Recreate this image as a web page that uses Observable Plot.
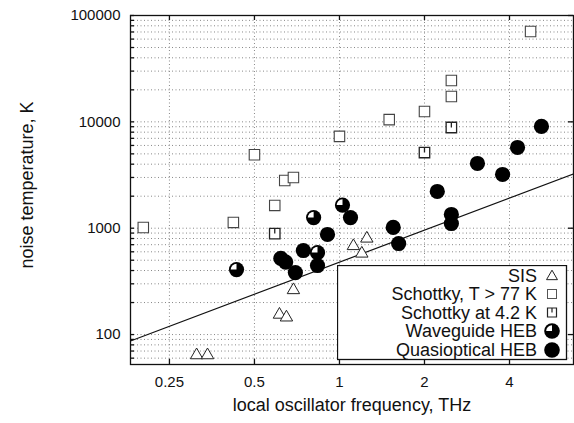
<!DOCTYPE html>
<html>
<head>
<meta charset="utf-8">
<script src="https://cdn.jsdelivr.net/npm/d3@7"></script>
<script src="https://cdn.jsdelivr.net/npm/@observablehq/plot@0.6"></script>
<style>
  html, body { margin: 0; padding: 0; background: #fff; }
  #wrap { position: relative; width: 574px; height: 423px; font-family: "Liberation Sans", Arial, sans-serif; }
  #legend { position: absolute; left: 337px; top: 265px; }
  #ylab { position: absolute; left: -73px; top: 174px; width: 200px; height: 22px; line-height: 22px;
          text-align: center; font-size: 18px; color: #111; transform: rotate(-90deg); transform-origin: 100px 11px; white-space: nowrap; }
</style>
</head>
<body>
<div id="wrap"><div id="chart"></div><div id="ylab"></div><div id="legend"></div></div>
<script>
// ---- data (frequency in THz, noise temperature in K) ----
const sisF = [0.312, 0.341, 0.613, 0.649, 0.687, 1.12, 1.20, 1.25];
const sisT = [64, 64, 154, 145, 262, 680, 578, 800];

const schF = [0.202, 0.421, 0.50, 0.59, 0.64, 0.687, 1.0, 1.50, 2.0, 2.49, 2.49, 4.75];
const schT = [1016, 1133, 4900, 1637, 2810, 3000, 7300, 10500, 12500, 17300, 24500, 70800];

const sch4F = [0.59, 2.0, 2.49];
const sch4T = [890, 5150, 8850];

const wgF = [0.432, 0.81, 0.836, 1.025];
const wgT = [408, 1260, 590, 1650];

const qoF = [0.62, 0.645, 0.698, 0.745, 0.836, 0.907, 1.094, 1.55, 1.62, 2.22, 2.49, 2.49, 3.08, 3.78, 4.27, 5.19];
const qoT = [520, 480, 383, 617, 446, 873, 1260, 1017, 718, 2215, 1346, 1107, 4060, 3200, 5740, 9060];

// reference line (10 h f / k)
const lineF = [0.182, 6.74];
const lineT = [87, 3240];

const xTicks = [0.25, 0.5, 1, 2, 4];
const yTicks = [100, 1000, 10000, 100000];
const xTitle = "local oscillator frequency, THz";
const yTitle = "noise temperature, K";
const legendLabels = ["SIS", "Schottky, T > 77 K", "Schottky at 4.2 K", "Waveguide HEB", "Quasioptical HEB"];

// ---- helpers ----
const pts = (F, T) => F.map((f, i) => ({f, T: T[i]}));
const yMinor = [];
for (let e = 1; e <= 4; e++) for (let m = 1; m <= 9; m++) { const v = m * 10 ** e; if (v >= 60) yMinor.push(v); }
yMinor.push(100000);

const square42 = {
  draw(ctx, size) {
    const s = Math.sqrt(size) / 2;
    ctx.moveTo(-s, -s); ctx.lineTo(s, -s); ctx.lineTo(s, s); ctx.lineTo(-s, s); ctx.closePath();
    ctx.moveTo(0, -s); ctx.lineTo(0, 0);
  }
};
const quarter = {
  draw(ctx, size) {
    const r = Math.sqrt(size / Math.PI);
    ctx.moveTo(0, 0); ctx.lineTo(-r, 0); ctx.arc(0, 0, r, Math.PI, 1.5 * Math.PI); ctx.closePath();
  }
};

const grid = {stroke: "#888", strokeOpacity: 1, strokeDasharray: "1,2.5", strokeWidth: 1};

const plot = Plot.plot({
  width: 574, height: 423,
  marginLeft: 130, marginRight: 1, marginTop: 15, marginBottom: 59,
  style: {fontFamily: "\"Liberation Sans\", Arial, sans-serif", fontSize: "15px", color: "#111", background: "white"},
  x: {type: "log", domain: [0.182, 6.74], axis: null},
  y: {type: "log", domain: [52.3, 100000], axis: null},
  marks: [
    Plot.gridY(yMinor, grid),
    Plot.gridX(xTicks, grid),
    Plot.text(yTicks, {y: d => d, text: d => String(d), frameAnchor: "left", dx: -10, textAnchor: "end", fontSize: 15, fill: "#111"}),
    Plot.text(xTicks, {x: d => d, text: d => String(d), frameAnchor: "bottom", dy: 22, fontSize: 15, fill: "#111"}),
    Plot.line(pts(lineF, lineT), {x: "f", y: "T", stroke: "#111", strokeWidth: 1.2, clip: true}),
    Plot.dot(pts(sisF, sisT), {x: "f", y: "T", symbol: "triangle", r: 4.6, fill: "white", stroke: "#222", strokeWidth: 1}),
    Plot.dot(pts(schF, schT), {x: "f", y: "T", symbol: "square", r: 5.9, fill: "white", stroke: "#444", strokeWidth: 1.1}),
    Plot.dot(pts(sch4F, sch4T), {x: "f", y: "T", symbol: square42, r: 5.9, fill: "white", stroke: "#222", strokeWidth: 1.3}),
    Plot.dot(pts(qoF, qoT), {x: "f", y: "T", r: 7.6, fill: "black"}),
    Plot.dot(pts(wgF, wgT), {x: "f", y: "T", r: 7.6, fill: "black"}),
    Plot.dot(pts(wgF, wgT), {x: "f", y: "T", symbol: quarter, r: 5.8, fill: "white"}),
    Plot.frame({stroke: "#111", strokeWidth: 1.3}),
    Plot.tickY(yMinor, {y: d => d, insetRight: 439, stroke: "#111", strokeWidth: 1.3}),
    Plot.tickY(yTicks, {y: d => d, insetLeft: 438, stroke: "#111", strokeWidth: 1.3}),
    Plot.tickX(xTicks, {x: d => d, insetBottom: 344, stroke: "#111", strokeWidth: 1.3}),
    Plot.tickX(xTicks, {x: d => d, insetTop: 344, stroke: "#111", strokeWidth: 1.3}),
    Plot.text([xTitle], {frameAnchor: "bottom", dy: 46, fontSize: 18, fill: "#111"})
  ]
});
document.getElementById("chart").append(plot);
document.getElementById("ylab").textContent = yTitle;

// ---- legend ----
const lw = 231, lh = 96;
const lg = d3.select("#legend").append("svg").attr("width", lw).attr("height", lh)
  .style("font-family", "\"Liberation Sans\", Arial, sans-serif");
lg.append("rect").attr("x", 0.5).attr("y", 0.5).attr("width", lw - 2).attr("height", lh - 2)
  .attr("fill", "white").attr("stroke", "#111").attr("stroke-width", 1.3);
const rowsY = [10.5, 29, 47.5, 66, 85];
const mx = 215;
legendLabels.forEach((t, i) => {
  lg.append("text").attr("x", 200).attr("y", rowsY[i]).attr("dy", "0.35em")
    .attr("text-anchor", "end").attr("font-size", 18).attr("fill", "#111").text(t);
});
lg.append("path").attr("d", d3.symbol(d3.symbolTriangle, 52)()).attr("transform", `translate(${mx},${rowsY[0] + 1})`)
  .attr("fill", "white").attr("stroke", "#222");
lg.append("rect").attr("x", mx - 4.5).attr("y", rowsY[1] - 4.5).attr("width", 9).attr("height", 9)
  .attr("fill", "white").attr("stroke", "#555");
lg.append("path").attr("d", `M${mx - 4.5},${rowsY[2] - 4.5}h9v9h-9zM${mx},${rowsY[2] - 4.5}v4.5`)
  .attr("fill", "white").attr("stroke", "#222").attr("stroke-width", 1.2);
lg.append("circle").attr("cx", mx).attr("cy", rowsY[3]).attr("r", 7.8).attr("fill", "black");
lg.append("path").attr("d", d3.symbol(quarter, Math.PI * 5.8 * 5.8)()).attr("transform", `translate(${mx},${rowsY[3]})`).attr("fill", "white");
lg.append("circle").attr("cx", mx).attr("cy", rowsY[4]).attr("r", 7.8).attr("fill", "black");
</script>
</body>
</html>
